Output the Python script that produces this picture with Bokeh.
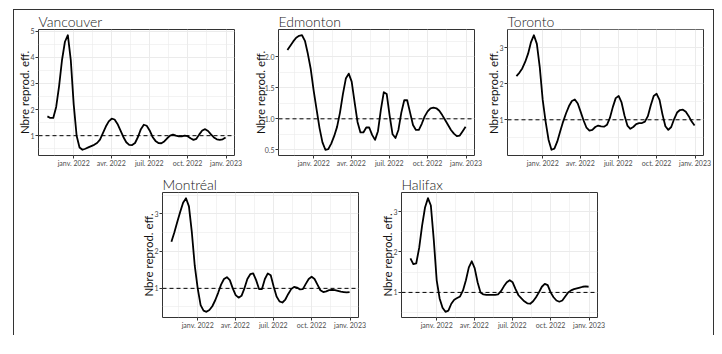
import pandas as pd
from bokeh.plotting import figure
from bokeh.models import (Range1d, FixedTicker, Span, CustomJSTickFormatter, PrintfTickFormatter,
                          Spacer, Title)
from bokeh.layouts import row, column
from bokeh.embed import file_html
from bokeh.resources import INLINE

# ---- data (weekly readings, 2021-10-30 .. 2022-12-31) ----
dates = pd.date_range("2021-10-30", "2022-12-31", freq="7D")

vancouver = [1.74, 1.68, 1.68, 2.1, 2.9, 3.9, 4.6, 4.85, 3.9, 2.2, 1.0, 0.55, 0.46, 0.5, 0.55, 0.6,
             0.65, 0.72, 0.85, 1.1, 1.35, 1.55, 1.65, 1.62, 1.45, 1.2, 0.95, 0.75, 0.65, 0.64, 0.72,
             0.95, 1.25, 1.42, 1.38, 1.2, 0.95, 0.8, 0.72, 0.71, 0.78, 0.9, 1.0, 1.04, 1.0, 0.97,
             0.97, 1.0, 0.98, 0.9, 0.84, 0.88, 1.05, 1.2, 1.25, 1.18, 1.05, 0.93, 0.86, 0.84, 0.86, 0.93]
edmonton = [2.11, 2.18, 2.25, 2.31, 2.34, 2.35, 2.26, 2.05, 1.8, 1.45, 1.15, 0.85, 0.62, 0.5, 0.51, 0.6,
            0.72, 0.87, 1.1, 1.4, 1.65, 1.73, 1.6, 1.27, 0.95, 0.78, 0.78, 0.86, 0.86, 0.74, 0.66,
            0.8, 1.15, 1.43, 1.4, 1.05, 0.75, 0.69, 0.82, 1.1, 1.3, 1.3, 1.1, 0.9, 0.82, 0.82,
            0.92, 1.04, 1.12, 1.17, 1.18, 1.17, 1.13, 1.06, 0.98, 0.9, 0.82, 0.76, 0.72, 0.73, 0.8, 0.87]
toronto = [2.21, 2.3, 2.42, 2.6, 2.83, 3.15, 3.34, 3.1, 2.45, 1.55, 0.95, 0.45, 0.17, 0.2, 0.4, 0.68,
           0.95, 1.18, 1.38, 1.52, 1.56, 1.45, 1.22, 0.98, 0.78, 0.7, 0.72, 0.8, 0.84, 0.82, 0.81,
           0.86, 1.05, 1.35, 1.6, 1.66, 1.48, 1.12, 0.84, 0.75, 0.8, 0.88, 0.91, 0.91, 0.95, 1.1,
           1.4, 1.66, 1.72, 1.55, 1.15, 0.82, 0.72, 0.8, 1.02, 1.2, 1.27, 1.28, 1.22, 1.1, 0.95, 0.84]
montreal = [2.25, 2.5, 2.78, 3.05, 3.3, 3.42, 3.2, 2.5, 1.6, 1.0, 0.55, 0.4, 0.37, 0.42, 0.52, 0.68,
            0.88, 1.1, 1.25, 1.3, 1.22, 1.0, 0.82, 0.75, 0.8, 1.0, 1.25, 1.38, 1.4, 1.22, 0.98,
            0.98, 1.25, 1.4, 1.35, 1.05, 0.78, 0.65, 0.62, 0.7, 0.85, 0.98, 1.04, 1.02, 0.97, 0.98,
            1.12, 1.25, 1.31, 1.25, 1.1, 0.95, 0.9, 0.92, 0.95, 0.96, 0.95, 0.93, 0.91, 0.9, 0.89, 0.9]
halifax = [1.84, 1.7, 1.72, 2.1, 2.65, 3.1, 3.33, 3.15, 2.3, 1.3, 0.85, 0.62, 0.52, 0.55, 0.72, 0.82,
           0.86, 0.9, 1.05, 1.3, 1.62, 1.77, 1.6, 1.25, 1.0, 0.95, 0.94, 0.94, 0.94, 0.94, 0.95,
           1.03, 1.15, 1.25, 1.3, 1.25, 1.08, 0.93, 0.85, 0.78, 0.73, 0.72, 0.78, 0.88, 1.0, 1.14,
           1.21, 1.18, 1.0, 0.88, 0.8, 0.77, 0.8, 0.9, 1.0, 1.05, 1.08, 1.1, 1.12, 1.14, 1.15, 1.14]

x_tick_dates = ["2022-01-01", "2022-04-01", "2022-07-01", "2022-10-01", "2023-01-01"]
x_tick_labels = ["janv. 2022", "avr. 2022", "juil. 2022", "oct. 2022", "janv. 2023"]
x_minor_dates = ["2021-11-16", "2022-02-15", "2022-05-16", "2022-08-16", "2022-11-16"]

y_ticks_int_5 = [1, 2, 3, 4, 5]
y_minor_int_5 = [0.5, 1.5, 2.5, 3.5, 4.5]
y_ticks_edm = [0.5, 1.0, 1.5, 2.0]
y_minor_edm = [0.75, 1.25, 1.75, 2.25]
y_ticks_int_3 = [1, 2, 3]
y_minor_int_3 = [0.5, 1.5, 2.5, 3.5]

y_axis_title = "Nbre reprod. eff."
FONT = "Lato"
TITLE_FONT = "Lato Light, Lato"


def ms(d):
    return pd.Timestamp(d).value / 1e6


xt = [ms(d) for d in x_tick_dates]
xm = [ms(d) for d in x_minor_dates]


def panel(name, vals, yt, ym, fmt, mbl, mbr, mbt, mbb, fh, als):
    x0, x1 = dates[0], dates[-1]
    pad = (x1 - x0) * 0.05
    lo, hi = min(vals), max(vals)
    ypad = (hi - lo) * 0.05
    p = figure(frame_width=196, frame_height=fh, x_axis_type="datetime", title=None,
               x_range=Range1d(ms(x0 - pad), ms(x1 + pad)), y_range=Range1d(lo - ypad, hi + ypad),
               output_backend="svg", toolbar_location=None,
               min_border_left=mbl, min_border_right=mbr, min_border_top=mbt, min_border_bottom=mbb,
               background_fill_color="white", border_fill_color="white")
    p.add_layout(Title(text=name, text_font=TITLE_FONT, text_font_size="14px", text_font_style="normal",
                       text_color="#1a1a1a", align="left", standoff=0, offset=0), "above")
    p.outline_line_color = "#333333"
    p.outline_line_width = 1
    p.outline_line_alpha = 1

    p.xaxis.ticker = FixedTicker(ticks=xt, minor_ticks=xm)
    p.xaxis.formatter = CustomJSTickFormatter(args=dict(tvals=xt, tlabels=x_tick_labels), code="""
        const i = tvals.indexOf(tick);
        return i >= 0 ? tlabels[i] : "";
    """)
    p.yaxis.ticker = FixedTicker(ticks=yt, minor_ticks=ym)
    p.yaxis.formatter = PrintfTickFormatter(format=fmt)
    p.yaxis.axis_label = y_axis_title
    p.yaxis.axis_label_text_font = FONT
    p.yaxis.axis_label_text_font_size = "11.5px"
    p.yaxis.axis_label_text_font_style = "normal"
    p.yaxis.axis_label_text_color = "#111111"
    p.yaxis.axis_label_standoff = als
    for ax in (p.xaxis, p.yaxis):
        ax.axis_line_color = None
        ax.major_tick_line_color = "#333333"
        ax.major_tick_out = 3
        ax.major_tick_in = 0
        ax.minor_tick_out = 0
        ax.minor_tick_in = 0
        ax.minor_tick_line_color = None
        ax.major_label_text_font = FONT
        ax.major_label_text_font_size = "7px"
        ax.major_label_text_color = "#4d4d4d"
    p.yaxis.major_label_standoff = 1
    p.xaxis.major_label_standoff = 0
    for g in (p.xgrid, p.ygrid):
        g.grid_line_color = "#ebebeb"
        g.grid_line_width = 1
        g.minor_grid_line_color = "#ebebeb"
        g.minor_grid_line_width = 0.6

    p.add_layout(Span(location=1, dimension="width", line_color="black", line_width=1, line_dash="4 3"))
    p.line(dates, vals, line_color="black", line_width=1.8, line_join="round")
    return p


f_van = panel("Vancouver", vancouver, y_ticks_int_5, y_minor_int_5, "%d", 24, 14, 19, 14, 126, -4)
f_edm = panel("Edmonton", edmonton, y_ticks_edm, y_minor_edm, "%.1f", 30, 9, 19, 14, 126, -5)
f_tor = panel("Toronto", toronto, y_ticks_int_3, y_minor_int_3, "%d", 24, 10, 19, 14, 126, -4)
f_mtl = panel("Montréal", montreal, y_ticks_int_3, y_minor_int_3, "%d", 26, 17, 23, 18, 125, -4)
f_hal = panel("Halifax", halifax, y_ticks_int_3, y_minor_int_3, "%d", 26, 20, 23, 18, 125, -4)

row1 = row(f_van, f_edm, f_tor)
row2 = row(Spacer(width=122, height=10), f_mtl, f_hal)
root = column(row1, row2, styles={"border-left": "1px solid #333", "border-top": "1px solid #333",
                                  "border-right": "1px solid #333", "margin-left": "13px",
                                  "margin-top": "9px"})

open("out.html", "w").write(file_html(root, INLINE))
